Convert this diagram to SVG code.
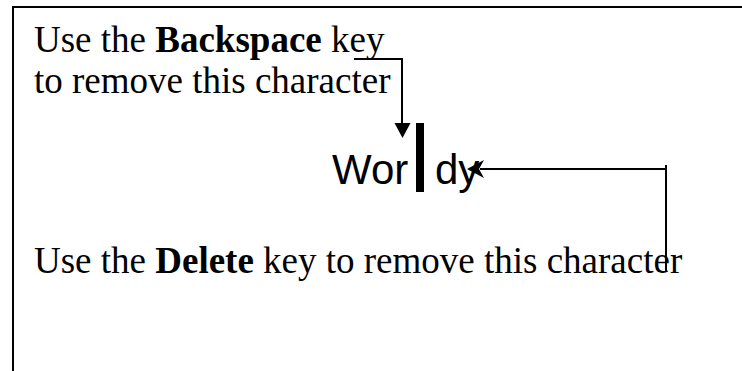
<svg xmlns="http://www.w3.org/2000/svg" width="742" height="371" viewBox="0 0 742 371">
<style>
.t{font-family:"Liberation Serif","Times New Roman",serif;font-size:37px;fill:#000}
.b{font-weight:bold}
.w{font-family:"Liberation Sans",Arial,sans-serif;font-size:42px;fill:#000}
.ln{stroke:#000;fill:none;stroke-width:2}
</style>
<rect width="742" height="371" fill="#fff"/>
<g id="frame">
<path class="ln" d="M13,372 V7 H743"/>
</g>
<g id="backspace-label">
<text class="t" x="34" y="52">Use the <tspan class="b">Backspace</tspan> key</text>
<text class="t" x="34" y="93">to remove this character</text>
</g>
<g id="word">
<text class="w" x="332" y="184">Wor</text>
<rect x="416" y="123" width="8" height="69" fill="#000"/>
<text class="w" x="435" y="184">dy</text>
</g>
<g id="delete-label">
<text class="t" x="34" y="273">Use the <tspan class="b">Delete</tspan> key to remove this character</text>
</g>
<g id="connectors">
<path class="ln" d="M354,59 H402 V124"/>
<path d="M394.5,123 L410.5,123 L402.5,138 Z" fill="#000"/>
<path class="ln" d="M666,272 V165" stroke-width="1.5"/>
<path class="ln" d="M666,169 H480" stroke-width="2.5"/>
<path d="M467,169 L484,160 L479,169 L484,178 Z" fill="#000"/>
</g>
</svg>
